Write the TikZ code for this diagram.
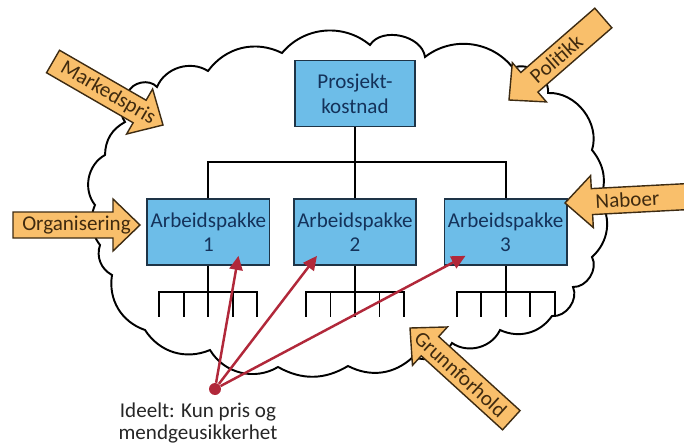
\documentclass[tikz,border=0pt]{standalone}
\usepackage{fontspec}
\setmainfont{Carlito}
\usetikzlibrary{arrows.meta,positioning,calc}
\definecolor{BoksBla}{HTML}{6DBDE8}
\definecolor{BoksKant}{HTML}{1E3447}
\definecolor{BoksTekst}{HTML}{14325A}
\definecolor{PilFyll}{HTML}{F9BF6B}
\definecolor{PilKant}{HTML}{3D2B12}
\definecolor{PilTekst}{HTML}{3F2A0F}
\definecolor{IdealRod}{HTML}{B1283A}
\tikzset{
  sky/.style={draw=black, fill=white, line width=1.1pt},
  boks/.style={draw=BoksKant, fill=BoksBla, line width=0.9pt, minimum width=2.4cm,
    minimum height=1.32cm, inner sep=2pt, align=center, text=BoksTekst,
    font=\fontsize{12}{14}\selectfont},
  linje/.style={line width=1.1pt},
  pil/.style={draw=PilKant, fill=PilFyll, line width=0.8pt, line join=miter},
  piltekst/.style={text=PilTekst, inner sep=0pt, font=\fontsize{12}{14}\selectfont},
  rodpil/.style={draw=IdealRod, line width=1.4pt, -{Triangle[length=8pt,width=7.5pt]}}
}
% block arrow: tip, direction, length, text angle, text
\newcommand{\blokkpil}[5]{%
  \begin{scope}[shift={#1}, rotate=#2]
    \draw[pil] (0,0) -- (-27,26) -- (-27,13) -- (-#3,13) -- (-#3,-13)
      -- (-27,-13) -- (-27,-26) -- cycle;
    \node[piltekst, rotate=#4] at (-#3/2,0) {#5};
  \end{scope}}

\begin{document}
\begin{tikzpicture}[x=0.02cm, y=-0.02cm]
  \useasboundingbox (0,0) rectangle (684,443);
  % cloud
  \draw[sky] (128,93) to[bend left=60] (157,87) to[bend left=50] (208,71)
    to[bend left=40] (282,53) to[bend left=45] (370,45) to[bend left=70] (425,57)
    to[bend left=45] (513,68) to[bend left=60] (548,93) to[bend left=55] (592,150)
    to[bend left=30] (600,200) to[bend left=40] (592,257) to[bend left=60] (573,287)
    to[bend left=60] (552,316) to[bend left=40] (500,330) to[bend left=50] (452,343)
    to[bend left=40] (413,357) to[bend left=35] (348,366) to[bend left=30] (278,367)
    to[bend left=45] (210,350) to[bend left=40] (145,330) to[bend left=40] (112,275)
    to[bend left=40] (100,245) to[bend left=30] (95,205) to[bend left=50] (105,155)
    to[bend left=30] (125,122) to[bend left=40] (128,93);
  % boxes
  \node[boks] (pk) at (355,93.5) {Prosjekt-\\kostnad};
  \node[boks, below=1.42cm of pk] (ap2) {Arbeidspakke\\2};
  \node[boks, left=0.45cm of ap2] (ap1) {Arbeidspakke\\1};
  \node[boks, right=0.53cm of ap2] (ap3) {Arbeidspakke\\3};
  % tree
  \draw[linje] (pk) -- (ap2);
  \draw[linje] (ap1.north) -- ++(0,-36) -| (ap3.north);
  \foreach \i in {1,2,3} {
    \draw[linje] (ap\i.south) -- ++(0,26);
    \draw[linje] ($(ap\i.south)+(-49,51)$) -- ++(0,-25) -- ++(98,0) -- ++(0,25);
    \foreach \dx in {-24.5,0,24.5}
      \draw[linje] ($(ap\i.south)+(\dx,26)$) -- ++(0,25);
  }
  % ideal
  \node[circle, fill=IdealRod, inner sep=0pt, minimum size=0.24cm] (ideal) at (215,389) {};
  \draw[rodpil] (ideal) -- ($(ap1.south)+(30,-10)$);
  \draw[rodpil] (ideal) -- ($(ap2.south)+(-38,-10)$);
  \draw[rodpil] (ideal) -- ($(ap3.south)+(-40,-10)$);
  \node[align=center, text=black!85, font=\fontsize{12}{12.5}\selectfont] (idealtekst)
    at (198,423) {Ideelt: Kun pris og\\mendgeusikkerhet};
  % arrows
  \blokkpil{(163,125)}{-30}{127}{-30}{Markedspris}
  \blokkpil{(509,100)}{221}{125}{41}{Politikk}
  \blokkpil{(565,203)}{183}{125}{3}{Naboer}
  \blokkpil{(140,225)}{0}{127}{0}{Organisering}
  \blokkpil{(410,328)}{137.7}{137}{-42.3}{Grunnforhold}
\end{tikzpicture}
\end{document}
